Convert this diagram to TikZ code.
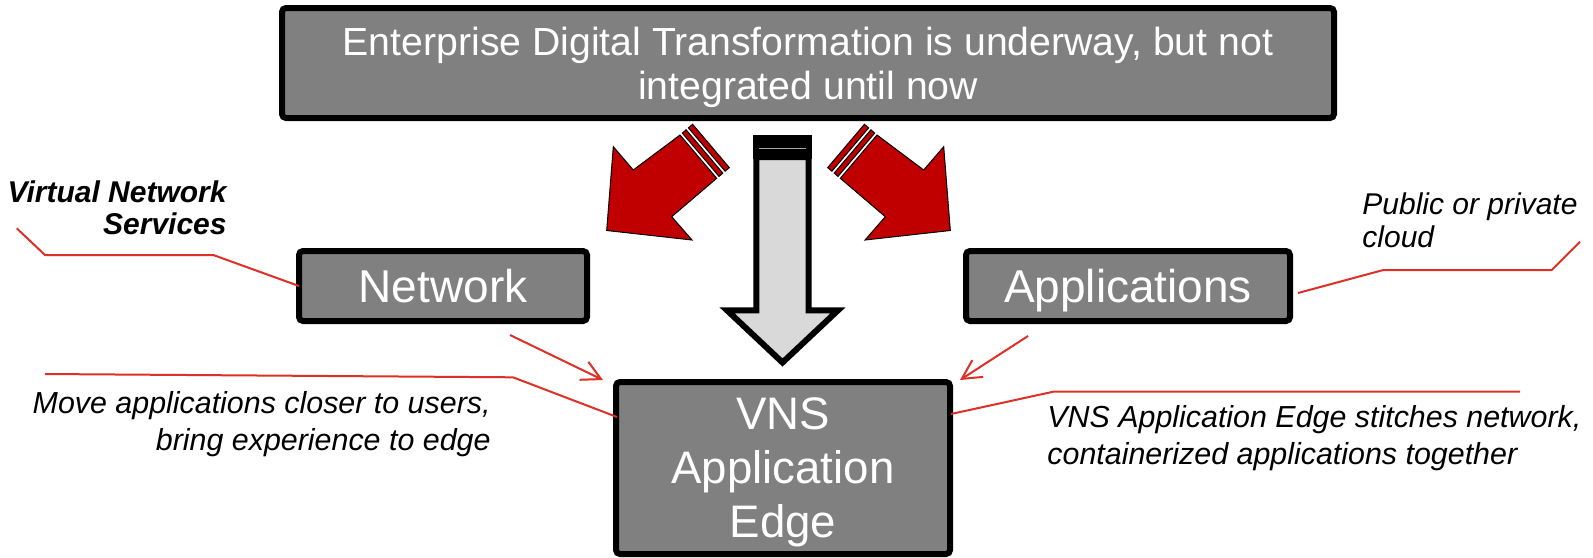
\documentclass[tikz,border=0pt]{standalone}
\usepackage{fontspec}
\setmainfont{Liberation Sans}
\usetikzlibrary{arrows.meta,calc}
\definecolor{boxgray}{RGB}{128,128,128}
\definecolor{darkred}{RGB}{192,0,0}
\definecolor{callred}{RGB}{222,48,38}
\definecolor{arrowgray}{RGB}{217,217,217}
\begin{document}
\begin{tikzpicture}[x=0.5pt,y=-0.5pt,
  gbox/.style={draw=black, line width=3pt, fill=boxgray, rounded corners=2pt, text=white, align=center, inner sep=0pt, outer sep=0pt},
  callout/.style={draw=callred, line width=1pt},
  ptr/.style={callout, -{Straight Barb[length=9.5pt,width=10pt]}},
  note/.style={inner sep=0pt},
  redarrow/.style={fill=darkred, draw=black, line width=0.5pt, line join=miter},
]
\useasboundingbox (0,0) rectangle (1593,557);

% boxes
\node[gbox, minimum width=526pt, minimum height=55pt, text depth=0pt, font=\fontsize{19.6}{22}\selectfont] (top) at (808,63) {Enterprise Digital Transformation is underway, but not\\integrated until now};
\node[gbox, minimum width=144pt, minimum height=35pt, text depth=0pt, font=\fontsize{23}{26}\selectfont] (net) at (443,286) {Network};
\node[gbox, minimum width=162pt, minimum height=35pt, text depth=0pt, font=\fontsize{23}{26}\selectfont] (app) at (1128,286) {Applications};
\node[gbox, minimum width=167pt, minimum height=86pt, text depth=0pt, font=\fontsize{22.8}{27}\selectfont] (vns) at (783,468) {VNS\\Application\\Edge};

% notes
\node[note, align=right, anchor=east, font=\fontsize{15}{15.8}\selectfont\bfseries\itshape] (vnsnote) at (227,207.5) {Virtual Network\\Services};
\node[note, align=left, anchor=west, font=\fontsize{15}{16.5}\selectfont\itshape] (cloud) at (1362,220) {Public or private\\cloud};
\node[note, align=right, anchor=east, font=\fontsize{15.2}{18.5}\selectfont\itshape] (move) at (491,424) {Move applications closer to users,\\bring experience to edge};
\node[note, align=left, anchor=west, font=\fontsize{15.2}{18.5}\selectfont\itshape] (stitch) at (1047,438.5) {VNS Application Edge stitches network,\\containerized applications together};

% callout lines
\coordinate (c1a) at (16.7,228.3);
\coordinate (c1b) at (45,255);
\coordinate (c1c) at (213.3,255);
\draw[callout] (c1a) -- (c1b) -- (c1c) -- (net.west);

\coordinate (c2b) at (1383.3,270);
\coordinate (c2c) at (1551.7,270);
\coordinate (c2d) at (1580,241.7);
\draw[callout] ($(app.east)+(8,7)$) -- (c2b) -- (c2c) -- (c2d);

\coordinate (c3a) at (45,374);
\coordinate (c3b) at (513,377.3);
\draw[callout] (c3a) -- (c3b) -- ($(vns.north west)+(1,35)$);

\coordinate (c4b) at (1053.3,391.7);
\coordinate (c4c) at (1520,391.7);
\draw[callout] ($(vns.north east)+(1,32)$) -- (c4b) -- (c4c);

\coordinate (p1) at (510,335);
\coordinate (p2) at (1028,336);
\draw[ptr] (p1) -- ($(vns.north west)+(-13,-2)$);
\draw[ptr] (p2) -- ($(vns.north east)+(10,-2)$);

% red block arrows
\foreach \s/\xs in {0/1,1557/-1}{
\begin{scope}[shift={(\s,0)}, xscale=\xs]
\filldraw[redarrow] (680,135) -- (633.3,170) -- (613.3,146.7) -- (606.7,230.5) -- (692,240) -- (671.7,216.7) -- (716.7,178.3) -- cycle;
\filldraw[redarrow] (682.3,133.1) -- (719.0,176.4) -- (722.8,173.1) -- (686.1,129.8) -- cycle;
\filldraw[redarrow] (688.4,127.9) -- (725.1,171.2) -- (729.3,167.6) -- (692.6,124.3) -- cycle;
\end{scope}
}

% middle block arrow
\filldraw[fill=arrowgray, draw=black, line width=3pt, line join=miter] (756.3,157) -- (808.7,157) -- (808.7,310.3) -- (838,310.3) -- (782.5,362.5) -- (727,310.3) -- (756.3,310.3) -- cycle;
\fill[black] (753.3,135) rectangle (811.7,159);
\draw[gray!70, line width=0.5pt] (759,148.3) -- (806,148.3);
\end{tikzpicture}
\end{document}
